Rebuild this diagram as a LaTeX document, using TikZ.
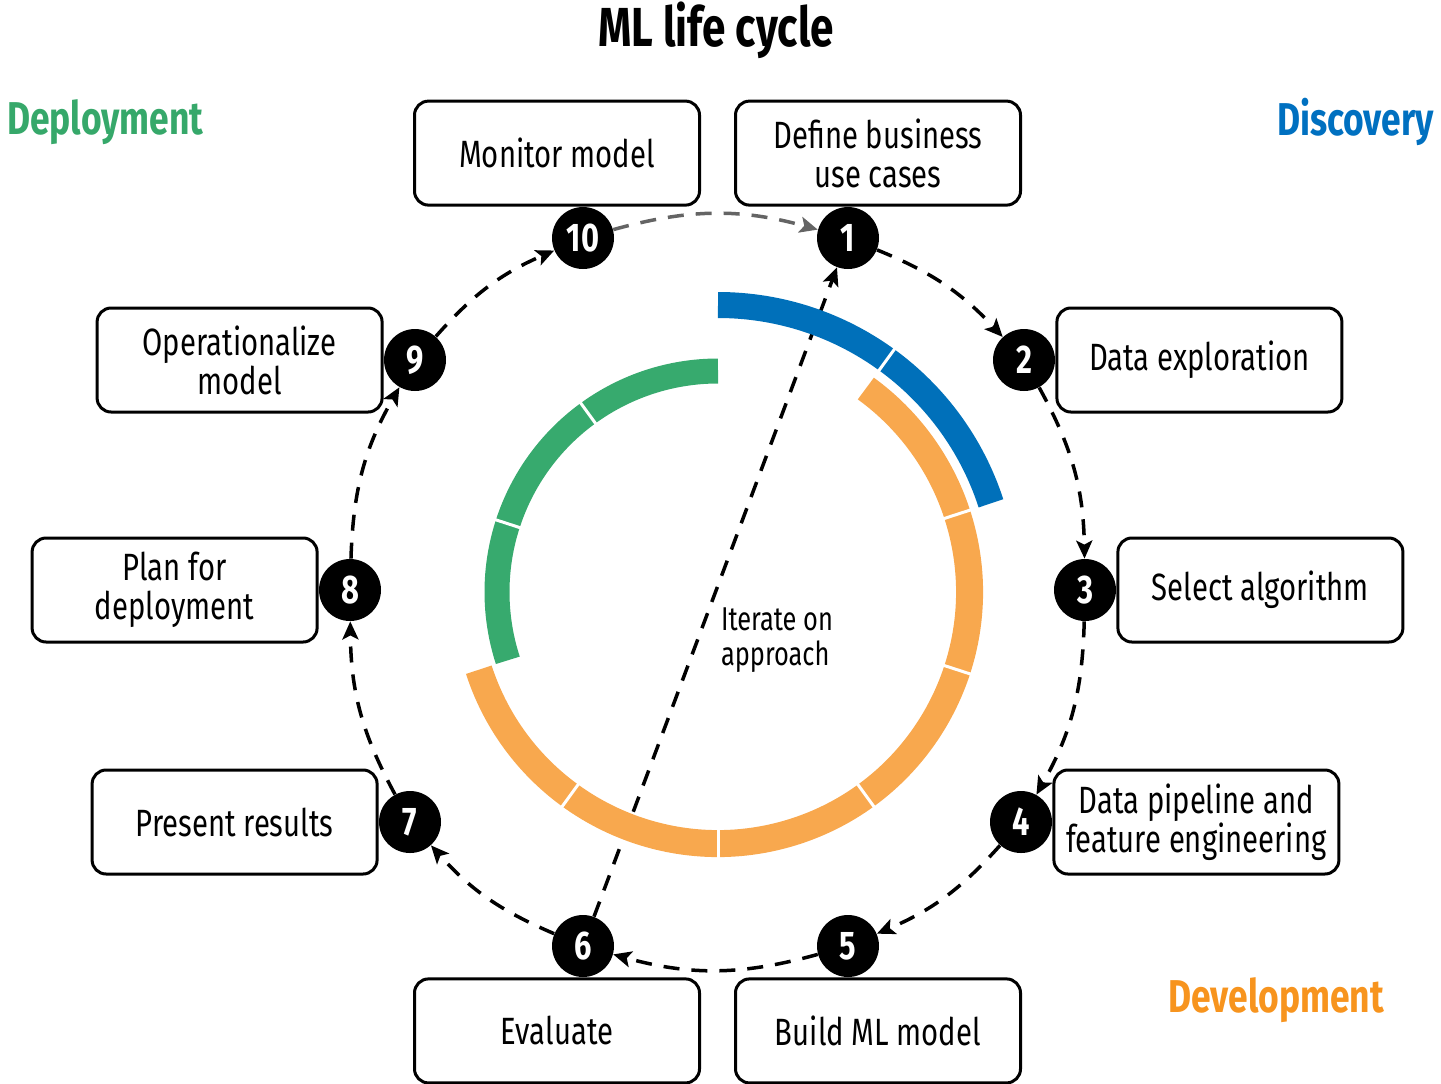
\documentclass[tikz,border=0pt]{standalone}
\usepackage{fontspec}
\setmainfont[FakeStretch=0.77]{Fira Sans}
\usepackage{tikz}
\usetikzlibrary{arrows.meta,positioning}
\definecolor{discblue}{RGB}{0,112,186}
\definecolor{devorange}{RGB}{248,168,78}
\definecolor{depgreen}{RGB}{55,170,110}
\definecolor{disctext}{RGB}{0,112,192}
\definecolor{devtext}{RGB}{247,148,30}
\definecolor{deptext}{RGB}{54,168,106}
\definecolor{loopgray}{RGB}{100,100,100}

\begin{document}
\begin{tikzpicture}[
  x=0.5pt, y=-0.5pt,
  stepbox/.style={draw, line width=1.5pt, rounded corners=7pt,
    minimum width=142.5pt, minimum height=52pt, inner sep=2pt,
    align=center, font=\fontsize{19}{19.5}\selectfont},
  num/.style={circle, fill=black, text=white, minimum size=31pt,
    inner sep=0pt, font=\bfseries\fontsize{20}{20}\selectfont},
  arr/.style={-{Stealth[length=9pt,width=8pt,inset=2pt]},
    line width=1.75pt, dash pattern=on 8pt off 6pt},
  phase/.style={font=\bfseries\fontsize{23}{23}\selectfont},
  gap/.style={white, line width=1.5pt}
]
\useasboundingbox (0,0) rectangle (1441,1083);
\coordinate (C) at (718,592);

\node[font=\bfseries\fontsize{27.5}{27.5}\selectfont] (title) at (716,30) {ML life cycle};
\node[phase, text=deptext, anchor=west] (deploy) at (0,122) {Deployment};
\node[phase, text=disctext, anchor=east] (disc) at (1441,122) {Discovery};
\node[phase, text=devtext] (devel) at (1276,1000) {Development};

\node[num] (n1) at (848,238) {1};
\node[num] (n2) at (1024,360) {2};
\node[num] (n3) at (1085,590) {3};
\node[num] (n4) at (1021,822) {4};
\node[num] (n5) at (848,946) {5};
\node[num] (n6) at (583,946) {6};
\node[num] (n7) at (410,822) {7};
\node[num] (n8) at (350,590) {8};
\node[num] (n9) at (415,360) {9};
\node[num] (n10) at (583,238) {10};

\node[stepbox, above=0pt of n1, xshift=15pt] (define) {Define business\\use cases};
\node[stepbox, right=0pt of n2] (explore) {Data exploration};
\node[stepbox, right=0pt of n3] (select) {Select algorithm};
\node[stepbox, right=0pt of n4] (pipeline) {Data pipeline and\\feature engineering};
\node[stepbox, below=0pt of n5, xshift=15pt] (build) {Build ML model};
\node[stepbox, below=0pt of n6, xshift=-13pt] (evaluate) {Evaluate};
\node[stepbox, left=0pt of n7] (present) {Present results};
\node[stepbox, left=0pt of n8] (plan) {Plan for\\deployment};
\node[stepbox, left=0pt of n9] (operate) {Operationalize\\model};
\node[stepbox, above=0pt of n10, xshift=-13pt] (monitor) {Monitor model};

\node[align=left, font=\fontsize{16.5}{17.5}\selectfont] (iterate) at (777,640) {Iterate on\\approach};

\draw[arr] (n1) to[bend left=12.5] (n2);
\draw[arr] (n2) to[bend left=14] (n3);
\draw[arr] (n3) to[bend left=14] (n4);
\draw[arr] (n4) to[bend left=12.5] (n5);
\draw[arr] (n5) to[bend left=15.5] (n6);
\draw[arr] (n6) to[bend left=12.5] (n7);
\draw[arr] (n7) to[bend left=14] (n8);
\draw[arr] (n8) to[bend left=14] (n9);
\draw[arr] (n9) to[bend left=12.5] (n10);
\draw[arr, loopgray] (n10) to[bend left=15.5] (n1);
\draw[arr] (n6) -- (n1);

% phase ring
\draw[line width=13pt, discblue] ([shift={(90:143.5pt)}]C) arc[start angle=90, end angle=18, radius=143.5pt];
\draw[line width=13.5pt, devorange] ([shift={(198:125.75pt)}]C) arc[start angle=198, end angle=414, radius=125.75pt];
\draw[line width=12.5pt, depgreen] ([shift={(90:110.5pt)}]C) arc[start angle=90, end angle=198, radius=110.5pt];
\foreach \a in {54}
  \draw[gap] ([shift={(\a:136pt)}]C) -- ([shift={(\a:151pt)}]C);
\foreach \a in {234,270,306,342,378}
  \draw[gap] ([shift={(\a:118pt)}]C) -- ([shift={(\a:134pt)}]C);
\foreach \a in {126,162}
  \draw[gap] ([shift={(\a:103pt)}]C) -- ([shift={(\a:118pt)}]C);
\end{tikzpicture}
\end{document}
